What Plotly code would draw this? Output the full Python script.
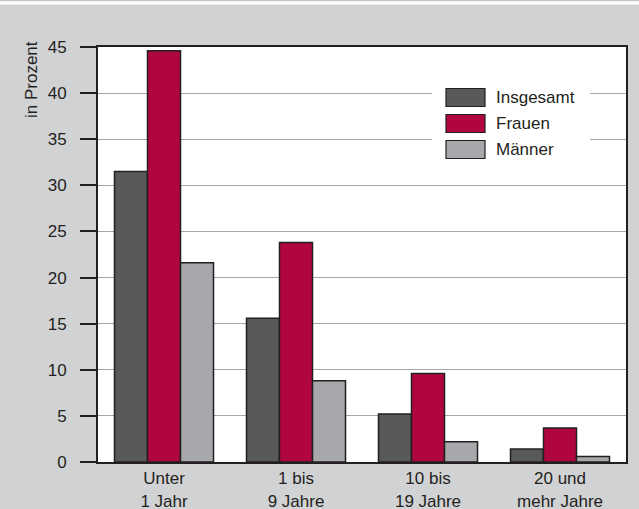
import plotly.graph_objects as go

categories = ["Unter<br>1 Jahr", "1 bis<br>9 Jahre", "10 bis<br>19 Jahre", "20 und<br>mehr Jahre"]
insgesamt = [31.5, 15.6, 5.2, 1.4]
frauen = [44.6, 23.8, 9.6, 3.7]
maenner = [21.6, 8.8, 2.2, 0.6]
series_names = ["Insgesamt", "Frauen", "Männer"]
series_colors = ["#58595b", "#b0063f", "#a7a8ab"]
y_ticks = list(range(0, 50, 5))

W, H = 639, 509
ML, MR, MT, MB = 98, 13, 47, 47
PW, PH = W - ML - MR, H - MT - MB
INK = "#231f20"
FONT = "Liberation Sans, Arial, sans-serif"
FS = 17


def px_x(px):
    return (px - ML) / PW


def px_y(py):
    return (H - MB - py) / PH


fig = go.Figure()
for name, vals, col in zip(series_names, [insgesamt, frauen, maenner], series_colors):
    fig.add_trace(go.Bar(
        x=categories, y=vals, name=name, showlegend=False,
        marker=dict(color=col, line=dict(color=INK, width=1.5)),
    ))

shapes = []
# thin white band with hairline along the top edge
shapes.append(dict(type="rect", xref="paper", yref="paper",
                   x0=px_x(0), x1=px_x(W), y0=px_y(4.5), y1=px_y(-2),
                   fillcolor="white", line=dict(width=0), layer="above"))
shapes.append(dict(type="line", xref="paper", yref="paper",
                   x0=px_x(0), x1=px_x(W), y0=px_y(0.6), y1=px_y(0.6),
                   line=dict(color="#c4c4c4", width=1.5), layer="above"))

# legend box
shapes.append(dict(type="rect", xref="paper", yref="paper",
                   x0=px_x(432), x1=px_x(590), y0=px_y(165), y1=px_y(80),
                   fillcolor="white", line=dict(width=0), layer="above"))
annotations = []
for i, (name, col) in enumerate(zip(series_names, series_colors)):
    top = 88.5 + i * 26
    shapes.append(dict(type="rect", xref="paper", yref="paper",
                       x0=px_x(446), x1=px_x(485), y0=px_y(top + 18), y1=px_y(top),
                       fillcolor=col, line=dict(color=INK, width=1.2), layer="above"))
    annotations.append(dict(xref="paper", yref="paper", x=px_x(494), y=px_y(top + 9),
                            text=name, showarrow=False, xanchor="left", yanchor="middle",
                            font=dict(family=FONT, size=FS, color=INK)))

annotations.append(dict(xref="paper", yref="paper", x=px_x(31), y=px_y(80),
                        text="in Prozent", textangle=-90, showarrow=False,
                        xanchor="center", yanchor="middle",
                        font=dict(family=FONT, size=FS, color=INK)))

fig.update_layout(
    width=W, height=H,
    margin=dict(l=ML, r=MR, t=MT, b=MB, pad=0, autoexpand=False),
    paper_bgcolor="#d1d2d4", plot_bgcolor="white",
    barmode="group", bargap=0.25, bargroupgap=0,
    font=dict(family=FONT, size=FS, color=INK),
    shapes=shapes, annotations=annotations,
    xaxis=dict(showline=True, linecolor=INK, linewidth=2, mirror=True,
               ticks="", showgrid=False, ticklabelstandoff=0, automargin=False,
               tickfont=dict(size=FS, color=INK)),
    yaxis=dict(range=[0, 45], tickvals=y_ticks, showline=True, linecolor=INK,
               linewidth=2, mirror=True, ticks="outside", ticklen=16,
               tickwidth=1.5, tickcolor=INK, showgrid=True, gridcolor="#a6a6a6",
               gridwidth=1, zeroline=False, ticklabelstandoff=10, automargin=False,
               tickfont=dict(size=FS, color=INK)),
)

fig.write_html("out.html")
